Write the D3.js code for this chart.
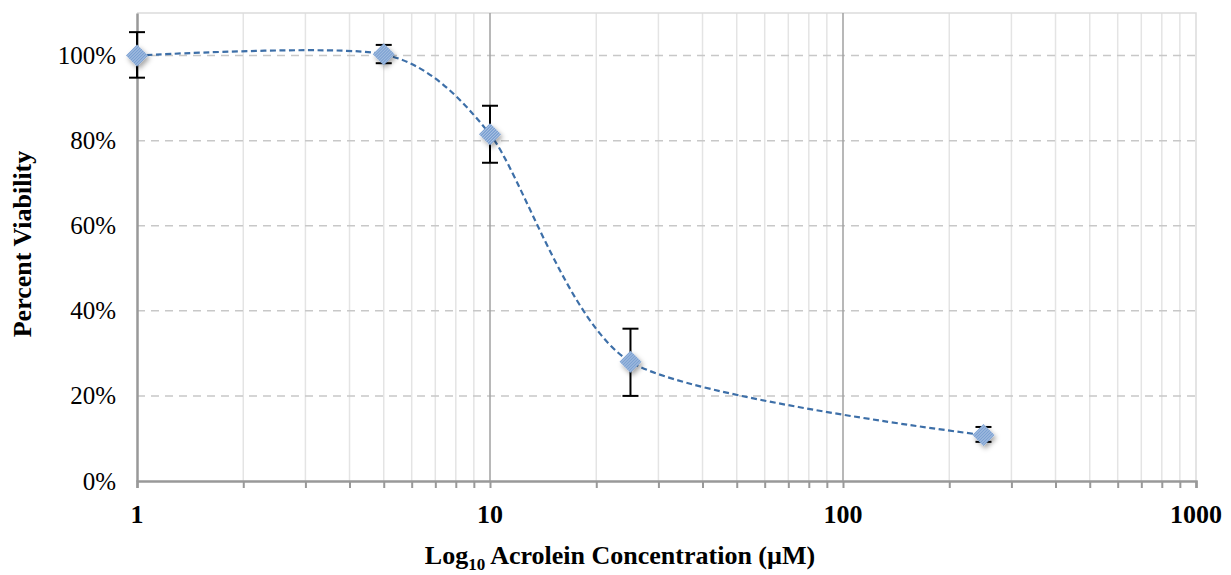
<!DOCTYPE html>
<html>
<head>
<meta charset="utf-8">
<script src="https://cdn.jsdelivr.net/npm/d3@7/dist/d3.min.js"></script>
<style>
  body { margin: 0; background: #fff; }
  svg text { font-family: "Liberation Serif", "Times New Roman", serif; fill: #000; }
</style>
</head>
<body>
<div id="chart"></div>
<script>
// data
const concentrations = [1, 5, 10, 25, 250];
const viability = [1.00, 1.003, 0.815, 0.28, 0.108];
const errUpper = [1.055, 1.025, 0.882, 0.358, 0.127];
const errLower = [0.948, 0.982, 0.748, 0.20, 0.092];
const yTicks = [0, 0.2, 0.4, 0.6, 0.8, 1.0];
const xMajorTicks = [1, 10, 100, 1000];

const W = 1231, H = 575;
const margin = { top: 13, right: 35, bottom: 94, left: 137 };

const svg = d3.select("#chart").append("svg")
  .attr("width", W).attr("height", H);

const x = d3.scaleLog().domain([1, 1000]).range([margin.left, W - margin.right]);
const y = d3.scaleLinear().domain([0, 1.1]).range([H - margin.bottom, margin.top]);

const defs = svg.append("defs");
const pat = defs.append("pattern")
  .attr("id", "hatch")
  .attr("patternUnits", "userSpaceOnUse")
  .attr("width", 3).attr("height", 3);
pat.append("rect").attr("width", 3).attr("height", 3).attr("fill", "#7a9fd1");
pat.append("path").attr("d", "M0,3 L3,0").attr("stroke", "#bcd0ea").attr("stroke-width", 0.9);

const shadow = defs.append("filter").attr("id", "shadow")
  .attr("x", "-50%").attr("y", "-50%").attr("width", "200%").attr("height", "200%");
shadow.append("feDropShadow")
  .attr("dx", 2).attr("dy", 3).attr("stdDeviation", 2.5)
  .attr("flood-color", "#000").attr("flood-opacity", 0.35);

// minor vertical gridlines
const minorTicks = [];
for (let d = 1; d < 1000; d *= 10) {
  for (let k = 2; k <= 9; k++) minorTicks.push(d * k);
}
svg.append("g").selectAll("line")
  .data(minorTicks)
  .join("line")
  .attr("x1", d => x(d)).attr("x2", d => x(d))
  .attr("y1", margin.top).attr("y2", y(0))
  .attr("stroke", "#e4e4e4").attr("stroke-width", 1.5);

// plot frame (top/right)
svg.append("path")
  .attr("d", `M${x(1)},${margin.top}H${x(1000)}V${y(0)}`)
  .attr("fill", "none").attr("stroke", "#dcdcdc").attr("stroke-width", 1.5);

// horizontal dashed gridlines
svg.append("g").selectAll("line")
  .data(yTicks.filter(d => d > 0))
  .join("line")
  .attr("x1", x(1)).attr("x2", x(1000))
  .attr("y1", d => y(d)).attr("y2", d => y(d))
  .attr("stroke", "#c8c8c8").attr("stroke-width", 1.5)
  .attr("stroke-dasharray", "8,6");

// major vertical gridlines
svg.append("g").selectAll("line")
  .data([10, 100])
  .join("line")
  .attr("x1", d => x(d)).attr("x2", d => x(d))
  .attr("y1", margin.top).attr("y2", y(0))
  .attr("stroke", "#a0a0a0").attr("stroke-width", 1.5);

// x axis
const xAxis = svg.append("g")
  .attr("transform", `translate(0,${y(0)})`)
  .call(d3.axisBottom(x).tickValues(minorTicks.concat(xMajorTicks)).tickSize(7).tickFormat(""));
xAxis.select(".domain").attr("stroke", "#999").attr("stroke-width", 2.5);
xAxis.selectAll(".tick line").attr("stroke", "#999").attr("stroke-width", 2);

svg.append("g").selectAll("text")
  .data(xMajorTicks)
  .join("text")
  .attr("x", d => x(d)).attr("y", 523)
  .attr("text-anchor", "middle")
  .attr("font-size", 26).attr("font-weight", "bold")
  .text(d => d);

// y axis
const yAxis = svg.append("g")
  .attr("transform", `translate(${x(1)},0)`)
  .call(d3.axisLeft(y).tickValues(yTicks).tickSize(0).tickPadding(21).tickFormat(d3.format(".0%")));
yAxis.select(".domain").attr("stroke", "#999").attr("stroke-width", 2.5);
yAxis.selectAll(".tick text")
  .attr("font-family", "Liberation Serif, serif")
  .attr("font-size", 25).attr("fill", "#000");

// axis titles
const xt = svg.append("text")
  .attr("x", 620).attr("y", 564)
  .attr("text-anchor", "middle")
  .attr("font-size", 26).attr("font-weight", "bold");
xt.append("tspan").text("Log");
xt.append("tspan").attr("font-size", 17).attr("dy", 6).text("10");
xt.append("tspan").attr("dy", -6).text(" Acrolein Concentration (µM)");

svg.append("text")
  .attr("transform", "translate(31,244) rotate(-90)")
  .attr("text-anchor", "middle")
  .attr("font-size", 26).attr("font-weight", "bold")
  .text("Percent Viability");

const pts = concentrations.map((c, i) => ({ c, v: viability[i], hi: errUpper[i], lo: errLower[i] }));

// smoothed dashed trend line
const line = d3.line()
  .x(d => x(d.c)).y(d => y(d.v))
  .curve(d3.curveCardinal.tension(0.25));
svg.append("path")
  .datum(pts)
  .attr("d", line)
  .attr("fill", "none")
  .attr("stroke", "#3d6fa8").attr("stroke-width", 2.2)
  .attr("stroke-dasharray", "6,3.5");

// error bars
const eb = svg.append("g").attr("stroke", "#000").attr("stroke-width", 2);
eb.selectAll("line.v").data(pts).join("line").attr("class", "v")
  .attr("x1", d => x(d.c)).attr("x2", d => x(d.c))
  .attr("y1", d => y(d.hi)).attr("y2", d => y(d.lo));
eb.selectAll("line.hi").data(pts).join("line").attr("class", "hi")
  .attr("x1", d => x(d.c) - 8).attr("x2", d => x(d.c) + 8)
  .attr("y1", d => y(d.hi)).attr("y2", d => y(d.hi));
eb.selectAll("line.lo").data(pts).join("line").attr("class", "lo")
  .attr("x1", d => x(d.c) - 8).attr("x2", d => x(d.c) + 8)
  .attr("y1", d => y(d.lo)).attr("y2", d => y(d.lo));

// diamond markers
svg.append("g").selectAll("path")
  .data(pts)
  .join("path")
  .attr("transform", d => `translate(${x(d.c)},${y(d.v)})`)
  .attr("d", "M0,-11L11,0L0,11L-11,0Z")
  .attr("fill", "url(#hatch)")
  .attr("filter", "url(#shadow)");
</script>
</body>
</html>
